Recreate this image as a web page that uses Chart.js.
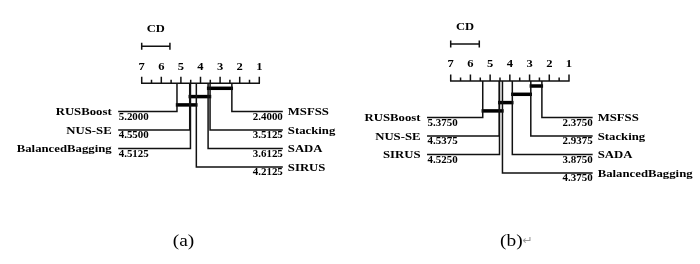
<!DOCTYPE html>
<html>
<head>
<meta charset="utf-8">
<script src="https://cdn.jsdelivr.net/npm/chart.js@4"></script>
<style>
  body { margin: 0; background: #fff; }
  #wrap { position: relative; width: 700px; height: 264px; }
  .panel { position: absolute; top: 0; width: 350px; height: 264px; }
</style>
</head>
<body>
<div id="wrap">
  <div class="panel" style="left:0"><canvas id="cdA" width="350" height="264"></canvas></div>
  <div class="panel" style="left:350px"><canvas id="cdB" width="350" height="264"></canvas></div>
</div>
<script>
// average ranks, panel (a)
const methodsA = ['MSFSS', 'Stacking', 'SADA', 'SIRUS', 'BalancedBagging', 'NUS-SE', 'RUSBoost'];
const ranksA = [2.4, 3.5125, 3.6125, 4.2125, 4.5125, 4.55, 5.2];
const cliquesA = [[2.4, 3.6125], [3.5125, 4.55], [4.2125, 5.2]];
const cdA = 1.44;

// average ranks, panel (b)
const methodsB = ['MSFSS', 'Stacking', 'SADA', 'BalancedBagging', 'SIRUS', 'NUS-SE', 'RUSBoost'];
const ranksB = [2.375, 2.9375, 3.875, 4.375, 4.525, 4.5375, 5.375];
const cliquesB = [[2.375, 2.9375], [2.9375, 3.875], [3.875, 4.5375], [4.375, 5.375]];
const cdB = 1.45;

const tickValues = [7, 6, 5, 4, 3, 2, 1];
const tickLabels = ['7', '6', '5', '4', '3', '2', '1'];
const captions = ['(a)', '(b)'];

const SERIF = '"Liberation Serif", "Times New Roman", serif';
const SX = 1.14; // picture is a bit stretched sideways

function txt(ctx, s, x, y, font, align, color) {
  ctx.save();
  ctx.translate(x, y);
  ctx.scale(SX, 1);
  ctx.font = font;
  ctx.textAlign = align;
  ctx.textBaseline = 'middle';
  ctx.fillStyle = color || '#000';
  ctx.fillText(s, 0, 0);
  ctx.restore();
}

function makeCD(canvasId, methods, ranks, cliques, cd, lay, caption) {
  const W = 350, H = 264;
  const unit = (lay.x1 - lay.x7) / 6;
  const xmax = 7 + lay.x7 / unit;
  const xmin = 1 - (W - lay.x1) / unit;
  const ext = 1.2; // how far the label lines run past the axis

  // best half goes right, rest on the left
  const order = ranks.map((r, i) => i).sort((a, b) => ranks[a] - ranks[b]);
  const nRight = Math.ceil(methods.length / 2);
  const right = order.slice(0, nRight);
  const left = order.slice(nRight).reverse();

  const rowStart = lay.axisY + 5 + (cliques.length - 1) * 8.3 + 6.6;
  const rowGap = 18.5;
  const rowY = {};
  right.forEach((idx, i) => { rowY[idx] = rowStart + i * rowGap; });
  left.forEach((idx, i) => { rowY[idx] = rowStart + i * rowGap; });

  const datasets = [];
  right.forEach(idx => {
    datasets.push({
      data: [{x: ranks[idx], y: lay.axisY}, {x: ranks[idx], y: rowY[idx]}, {x: 1 - ext, y: rowY[idx]}],
      borderColor: '#111', borderWidth: 1.5, showLine: true, pointRadius: 0, tension: 0
    });
  });
  left.forEach(idx => {
    datasets.push({
      data: [{x: ranks[idx], y: lay.axisY}, {x: ranks[idx], y: rowY[idx]}, {x: 7 + ext, y: rowY[idx]}],
      borderColor: '#111', borderWidth: 1.5, showLine: true, pointRadius: 0, tension: 0
    });
  });
  cliques.forEach((c, j) => {
    const y = lay.axisY + 5 + j * 8.3;
    datasets.push({
      data: [{x: c[0] - 0.06, y: y}, {x: c[1] + 0.06, y: y}],
      borderColor: '#000', borderWidth: 3.5, showLine: true, pointRadius: 0, borderCapStyle: 'butt'
    });
  });

  const cdPlugin = {
    id: 'cdDraw',
    beforeDatasetsDraw(chart) {
      const ctx = chart.ctx, xs = chart.scales.x, ys = chart.scales.y;
      const ay = ys.getPixelForValue(lay.axisY);
      ctx.save();
      ctx.strokeStyle = '#111';
      ctx.lineWidth = 1.5;
      ctx.beginPath();
      ctx.moveTo(xs.getPixelForValue(7) - 0.7, ay);
      ctx.lineTo(xs.getPixelForValue(1) + 0.7, ay);
      for (let v = 1; v <= 7; v += 0.5) {
        const x = xs.getPixelForValue(v);
        const len = Number.isInteger(v) ? 6.5 : 3.5;
        ctx.moveTo(x, ay);
        ctx.lineTo(x, ay - len);
      }
      ctx.stroke();
      // CD bar
      const cy = ys.getPixelForValue(lay.axisY - 37);
      const c0 = xs.getPixelForValue(7), c1 = xs.getPixelForValue(7 - cd);
      ctx.beginPath();
      ctx.moveTo(c0, cy); ctx.lineTo(c1, cy);
      ctx.moveTo(c0, cy - 3.5); ctx.lineTo(c0, cy + 3.5);
      ctx.moveTo(c1, cy - 3.5); ctx.lineTo(c1, cy + 3.5);
      ctx.stroke();
      ctx.restore();
    },
    afterDatasetsDraw(chart) {
      const ctx = chart.ctx, xs = chart.scales.x, ys = chart.scales.y;
      const labFont = 'bold 11.2px ' + SERIF;
      const valFont = 'bold 9.6px ' + SERIF;
      tickValues.forEach((v, i) => {
        txt(ctx, tickLabels[i], xs.getPixelForValue(v), ys.getPixelForValue(lay.axisY - 16.6), 'bold 11px ' + SERIF, 'center');
      });
      txt(ctx, 'CD', xs.getPixelForValue(7 - cd / 2), ys.getPixelForValue(lay.axisY - 54.3), 'bold 11px ' + SERIF, 'center');
      const lx = xs.getPixelForValue(7 + ext), rx = xs.getPixelForValue(1 - ext);
      left.forEach(idx => {
        const y = ys.getPixelForValue(rowY[idx]);
        txt(ctx, methods[idx], lx - 6.5, y + 1, labFont, 'right');
        txt(ctx, ranks[idx].toFixed(4), lx + 0.5, y + 5.8, valFont, 'left');
      });
      right.forEach(idx => {
        const y = ys.getPixelForValue(rowY[idx]);
        txt(ctx, methods[idx], rx + 5, y + 1, labFont, 'left');
        txt(ctx, ranks[idx].toFixed(4), rx, y + 5.8, valFont, 'right');
      });
      const capY = ys.getPixelForValue(242);
      txt(ctx, caption, lay.capX, capY, '17px ' + SERIF, 'center');
      if (lay.mark) {
        txt(ctx, '\u21B5', lay.capX + 16.5, capY - 1, '11px "DejaVu Sans", sans-serif', 'center', '#9a9a9a');
      }
    }
  };

  return new Chart(document.getElementById(canvasId), {
    type: 'scatter',
    data: { datasets: datasets },
    options: {
      responsive: false,
      animation: false,
      devicePixelRatio: 1,
      layout: { padding: 0 },
      plugins: { legend: { display: false }, tooltip: { enabled: false } },
      scales: {
        x: { type: 'linear', reverse: true, min: xmin, max: xmax, display: false },
        y: { type: 'linear', reverse: true, min: 0, max: H, display: false }
      }
    },
    plugins: [cdPlugin]
  });
}

makeCD('cdA', methodsA, ranksA, cliquesA, cdA, {x7: 141.7, x1: 259.3, axisY: 83.3, capX: 183.5}, captions[0]);
makeCD('cdB', methodsB, ranksB, cliquesB, cdB, {x7: 100.7, x1: 219, axisY: 81, capX: 161.3, mark: true}, captions[1]);
</script>
</body>
</html>
